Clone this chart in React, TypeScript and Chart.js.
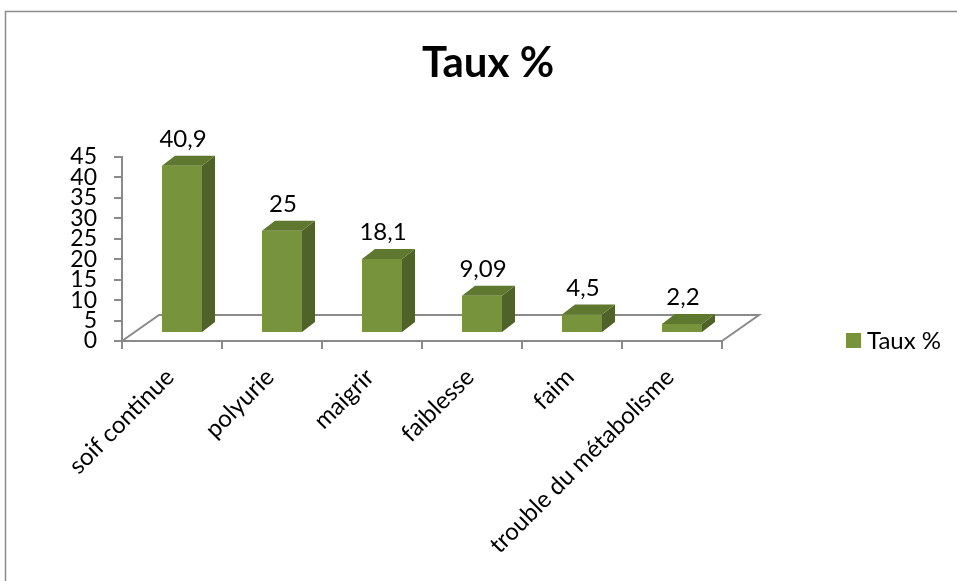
import React, { useEffect, useRef } from "react";
import { Chart, registerables } from "chart.js";

Chart.register(...registerables);

const TITLE = "Taux %";
const SERIES_NAME = "Taux %";
const CATEGORIES = ["soif continue", "polyurie", "maigrir", "faiblesse", "faim", "trouble du métabolisme"];
const VALUES = [40.9, 25, 18.1, 9.09, 4.5, 2.2];
const Y_MIN = 0;
const Y_MAX = 45;
const Y_STEP = 5;

const FRONT = "#77933C";
const SIDE = "#4F6228";
const TOP = "#5F782F";
const AXIS = "#8a8a8a";
const FONT = "Lato, 'Open Sans', sans-serif";

// 3D projection offsets (pixels)
const SHIFT_X = 10;
const SHIFT_Y = 8;
const DEPTH_X = 13;
const DEPTH_Y = 10;
const FLOOR_X = 37;
const FLOOR_Y = 26;

const fmt = (v: number) => String(v).replace(".", ",");

const excel3d = {
  id: "excel3d",
  beforeDraw(chart: any) {
    const { ctx, width, height } = chart;
    ctx.save();
    ctx.fillStyle = "#ffffff";
    ctx.fillRect(0, 0, width, height);
    ctx.strokeStyle = AXIS;
    ctx.lineWidth = 1.5;
    ctx.strokeRect(5.5, 11.5, width + 20, height + 20);
    ctx.fillStyle = "#000";
    ctx.font = `bold 42px ${FONT}`;
    ctx.textAlign = "center";
    ctx.textBaseline = "alphabetic";
    ctx.fillText(TITLE, 488, 77);
    ctx.restore();
  },
  beforeDatasetsDraw(chart: any) {
    const { ctx, chartArea } = chart;
    const L = chartArea.left, R = chartArea.right, B = chartArea.bottom;
    ctx.save();
    ctx.strokeStyle = AXIS;
    ctx.lineWidth = 2;
    ctx.beginPath();
    ctx.moveTo(L, B);
    ctx.lineTo(L + FLOOR_X, B - FLOOR_Y);
    ctx.lineTo(R + FLOOR_X, B - FLOOR_Y);
    ctx.lineTo(R, B);
    ctx.stroke();
    ctx.restore();
  },
  beforeDatasetDraw(chart: any) {
    chart.ctx.save();
    chart.ctx.translate(SHIFT_X, -SHIFT_Y);
  },
  afterDatasetDraw(chart: any, args: any) {
    const { ctx } = chart;
    ctx.restore();
    const meta = chart.getDatasetMeta(args.index);
    const data = chart.data.datasets[args.index].data as number[];
    ctx.save();
    meta.data.forEach((bar: any, i: number) => {
      const w = bar.width;
      const left = bar.x - w / 2 + SHIFT_X;
      const right = bar.x + w / 2 + SHIFT_X;
      const top = bar.y - SHIFT_Y;
      const bottom = bar.base - SHIFT_Y;
      // side face
      ctx.fillStyle = SIDE;
      ctx.beginPath();
      ctx.moveTo(right, top);
      ctx.lineTo(right + DEPTH_X, top - DEPTH_Y);
      ctx.lineTo(right + DEPTH_X, bottom - DEPTH_Y);
      ctx.lineTo(right, bottom);
      ctx.closePath();
      ctx.fill();
      // top face
      ctx.fillStyle = TOP;
      ctx.beginPath();
      ctx.moveTo(left, top);
      ctx.lineTo(left + DEPTH_X, top - DEPTH_Y);
      ctx.lineTo(right + DEPTH_X, top - DEPTH_Y);
      ctx.lineTo(right, top);
      ctx.closePath();
      ctx.fill();
      // value label
      ctx.fillStyle = "#000";
      ctx.font = `24px ${FONT}`;
      ctx.textAlign = "center";
      ctx.textBaseline = "alphabetic";
      ctx.fillText(fmt(data[i]), bar.x + SHIFT_X + 1, top - DEPTH_Y - 9);
    });
    ctx.restore();
  },
  afterDraw(chart: any) {
    const { ctx } = chart;
    const ds = chart.data.datasets[0];
    ctx.save();
    ctx.fillStyle = ds.backgroundColor;
    ctx.fillRect(846, 333, 15, 15);
    ctx.fillStyle = "#000";
    ctx.font = `24px ${FONT}`;
    ctx.textAlign = "left";
    ctx.textBaseline = "middle";
    ctx.fillText(ds.label, 867, 341);
    ctx.restore();
  },
};

export default function App() {
  const ref = useRef<HTMLCanvasElement>(null);
  useEffect(() => {
    document.body.style.margin = "0";
    const chart = new Chart(ref.current as HTMLCanvasElement, {
      type: "bar",
      data: {
        labels: CATEGORIES,
        datasets: [
          {
            label: SERIES_NAME,
            data: VALUES,
            backgroundColor: FRONT,
            borderWidth: 0,
            barPercentage: 0.4,
            categoryPercentage: 1,
            clip: false as any,
          },
        ],
      },
      options: {
        animation: false,
        responsive: false,
        layout: { padding: { top: 157, right: 235, bottom: 0, left: 0 } },
        plugins: {
          legend: { display: false },
          title: { display: false },
          tooltip: { enabled: false },
        },
        scales: {
          x: {
            grid: {
              display: true,
              drawOnChartArea: false,
              drawTicks: true,
              tickLength: 8,
              color: AXIS,
              lineWidth: 2,
              offset: true,
            },
            border: { display: true, color: AXIS, width: 2 },
            ticks: {
              minRotation: 45,
              maxRotation: 45,
              autoSkip: false,
              color: "#000",
              font: { family: FONT, size: 24 },
              padding: 14,
              labelOffset: -2,
            },
            afterFit: (s: any) => {
              s.height = 240;
            },
          },
          y: {
            min: Y_MIN,
            max: Y_MAX,
            ticks: {
              stepSize: Y_STEP,
              autoSkip: false,
              color: "#000",
              font: { family: FONT, size: 23 },
              padding: 17,
            },
            grid: {
              display: true,
              drawOnChartArea: false,
              drawTicks: true,
              tickLength: 8,
              color: AXIS,
              lineWidth: 2,
            },
            border: { display: true, color: AXIS, width: 2 },
            afterFit: (s: any) => {
              s.width = 122;
            },
          },
        },
      },
      plugins: [excel3d],
    });
    return () => chart.destroy();
  }, []);
  return (
    <div style={{ position: "absolute", left: 0, top: 0, width: 957, height: 581 }}>
      <canvas ref={ref} width={957} height={581} style={{ display: "block", width: 957, height: 581 }} />
    </div>
  );
}
